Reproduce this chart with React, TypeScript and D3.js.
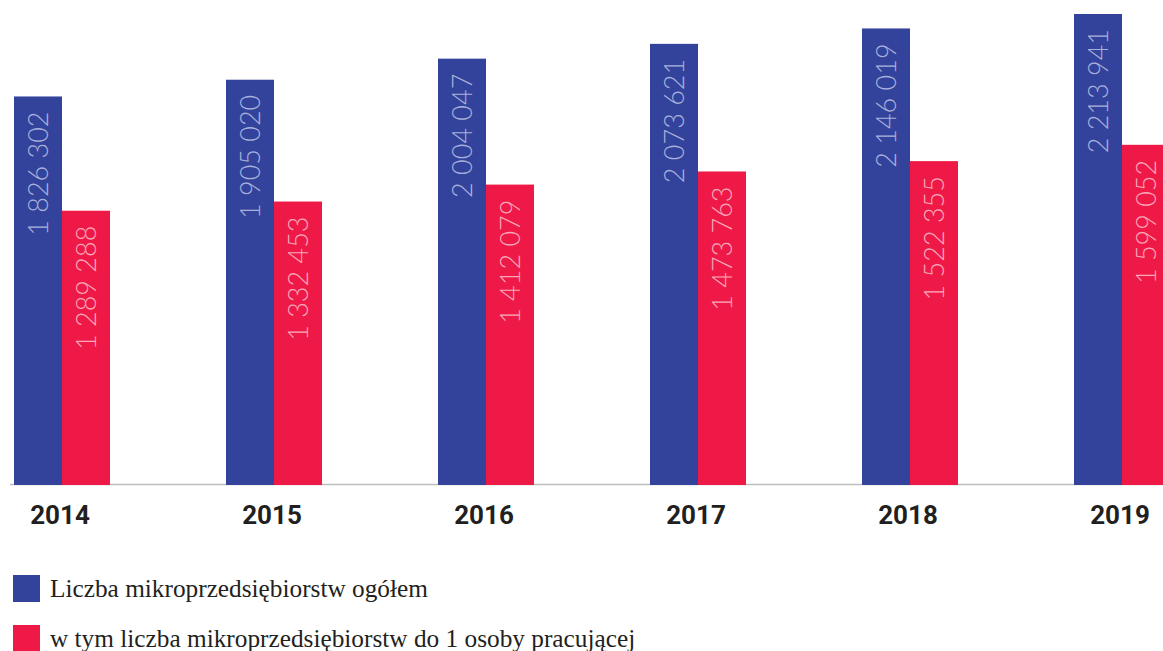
import React from "react";
import * as d3 from "d3";

const years = ["2014", "2015", "2016", "2017", "2018", "2019"];
const totalValues = [1826302, 1905020, 2004047, 2073621, 2146019, 2213941];
const singleValues = [1289288, 1332453, 1412079, 1473763, 1522355, 1599052];
const seriesKeys = ["total", "single"];
const legendLabels = [
  "Liczba mikroprzedsiębiorstw ogółem",
  "w tym liczba mikroprzedsiębiorstw do 1 osoby pracującej",
];

const W = 1163;
const H = 651;
const BLUE = "#33439b";
const RED = "#ee1946";
const colors: Record<string, string> = { total: BLUE, single: RED };
const labelColors: Record<string, string> = { total: "#a7b0dc", single: "#f8a6b9" };

const fmt = d3.formatLocale({
  thousands: " ",
  grouping: [3],
  decimal: ",",
  currency: ["", ""],
}).format(",");

export default function App() {
  const baseY = 485;
  const x0 = d3
    .scaleBand<string>()
    .domain(years)
    .range([14, 1170])
    .paddingInner(1 - 96 / 212)
    .paddingOuter(0);
  const x1 = d3
    .scaleBand<string>()
    .domain(seriesKeys)
    .range([0, x0.bandwidth()]);
  const y = d3.scaleLinear().domain([0, 2213941]).range([baseY, 14]);

  const rows = years.map((yr, i) => ({
    year: yr,
    values: [
      { key: "total", v: totalValues[i] },
      { key: "single", v: singleValues[i] },
    ],
  }));

  return (
    <svg
      width={W}
      height={H}
      style={{ position: "absolute", left: 0, top: 0, display: "block", background: "#fff" }}
    >
      <line x1={10} x2={W} y1={baseY - 0.5} y2={baseY - 0.5} stroke="#bdbdbd" strokeWidth={1.5} />
      {rows.map((r) => (
        <g key={r.year} transform={`translate(${x0(r.year)},0)`}>
          {r.values.map((d) => {
            const bx = x1(d.key)!;
            const by = y(d.v);
            const cx = bx + x1.bandwidth() / 2;
            return (
              <g key={d.key}>
                <rect
                  x={bx}
                  y={by}
                  width={x1.bandwidth()}
                  height={baseY - by}
                  fill={colors[d.key]}
                />
                <text
                  transform={`translate(${cx},${by + 15}) rotate(-90)`}
                  textAnchor="end"
                  dy="0.36em"
                  fill={labelColors[d.key]}
                  fontFamily="Lato, 'Open Sans', sans-serif"
                  fontWeight={300}
                  fontSize={27}
                >
                  {fmt(d.v)}
                </text>
              </g>
            );
          })}
          <text
            x={x0.bandwidth() / 2 - 2}
            y={524}
            textAnchor="middle"
            fill="#231f20"
            fontFamily="Roboto, sans-serif"
            fontWeight={700}
            fontSize={26}
          >
            {r.year}
          </text>
        </g>
      ))}
      {legendLabels.map((lab, i) => (
        <g key={lab} transform={`translate(13,${575 + i * 50})`}>
          <rect x={0} y={0} width={27} height={27} fill={i === 0 ? BLUE : RED} />
          <text
            x={37}
            y={22}
            fill="#231f20"
            fontFamily="'Liberation Serif', serif"
            fontSize={25.3}
          >
            {lab}
          </text>
        </g>
      ))}
    </svg>
  );
}
